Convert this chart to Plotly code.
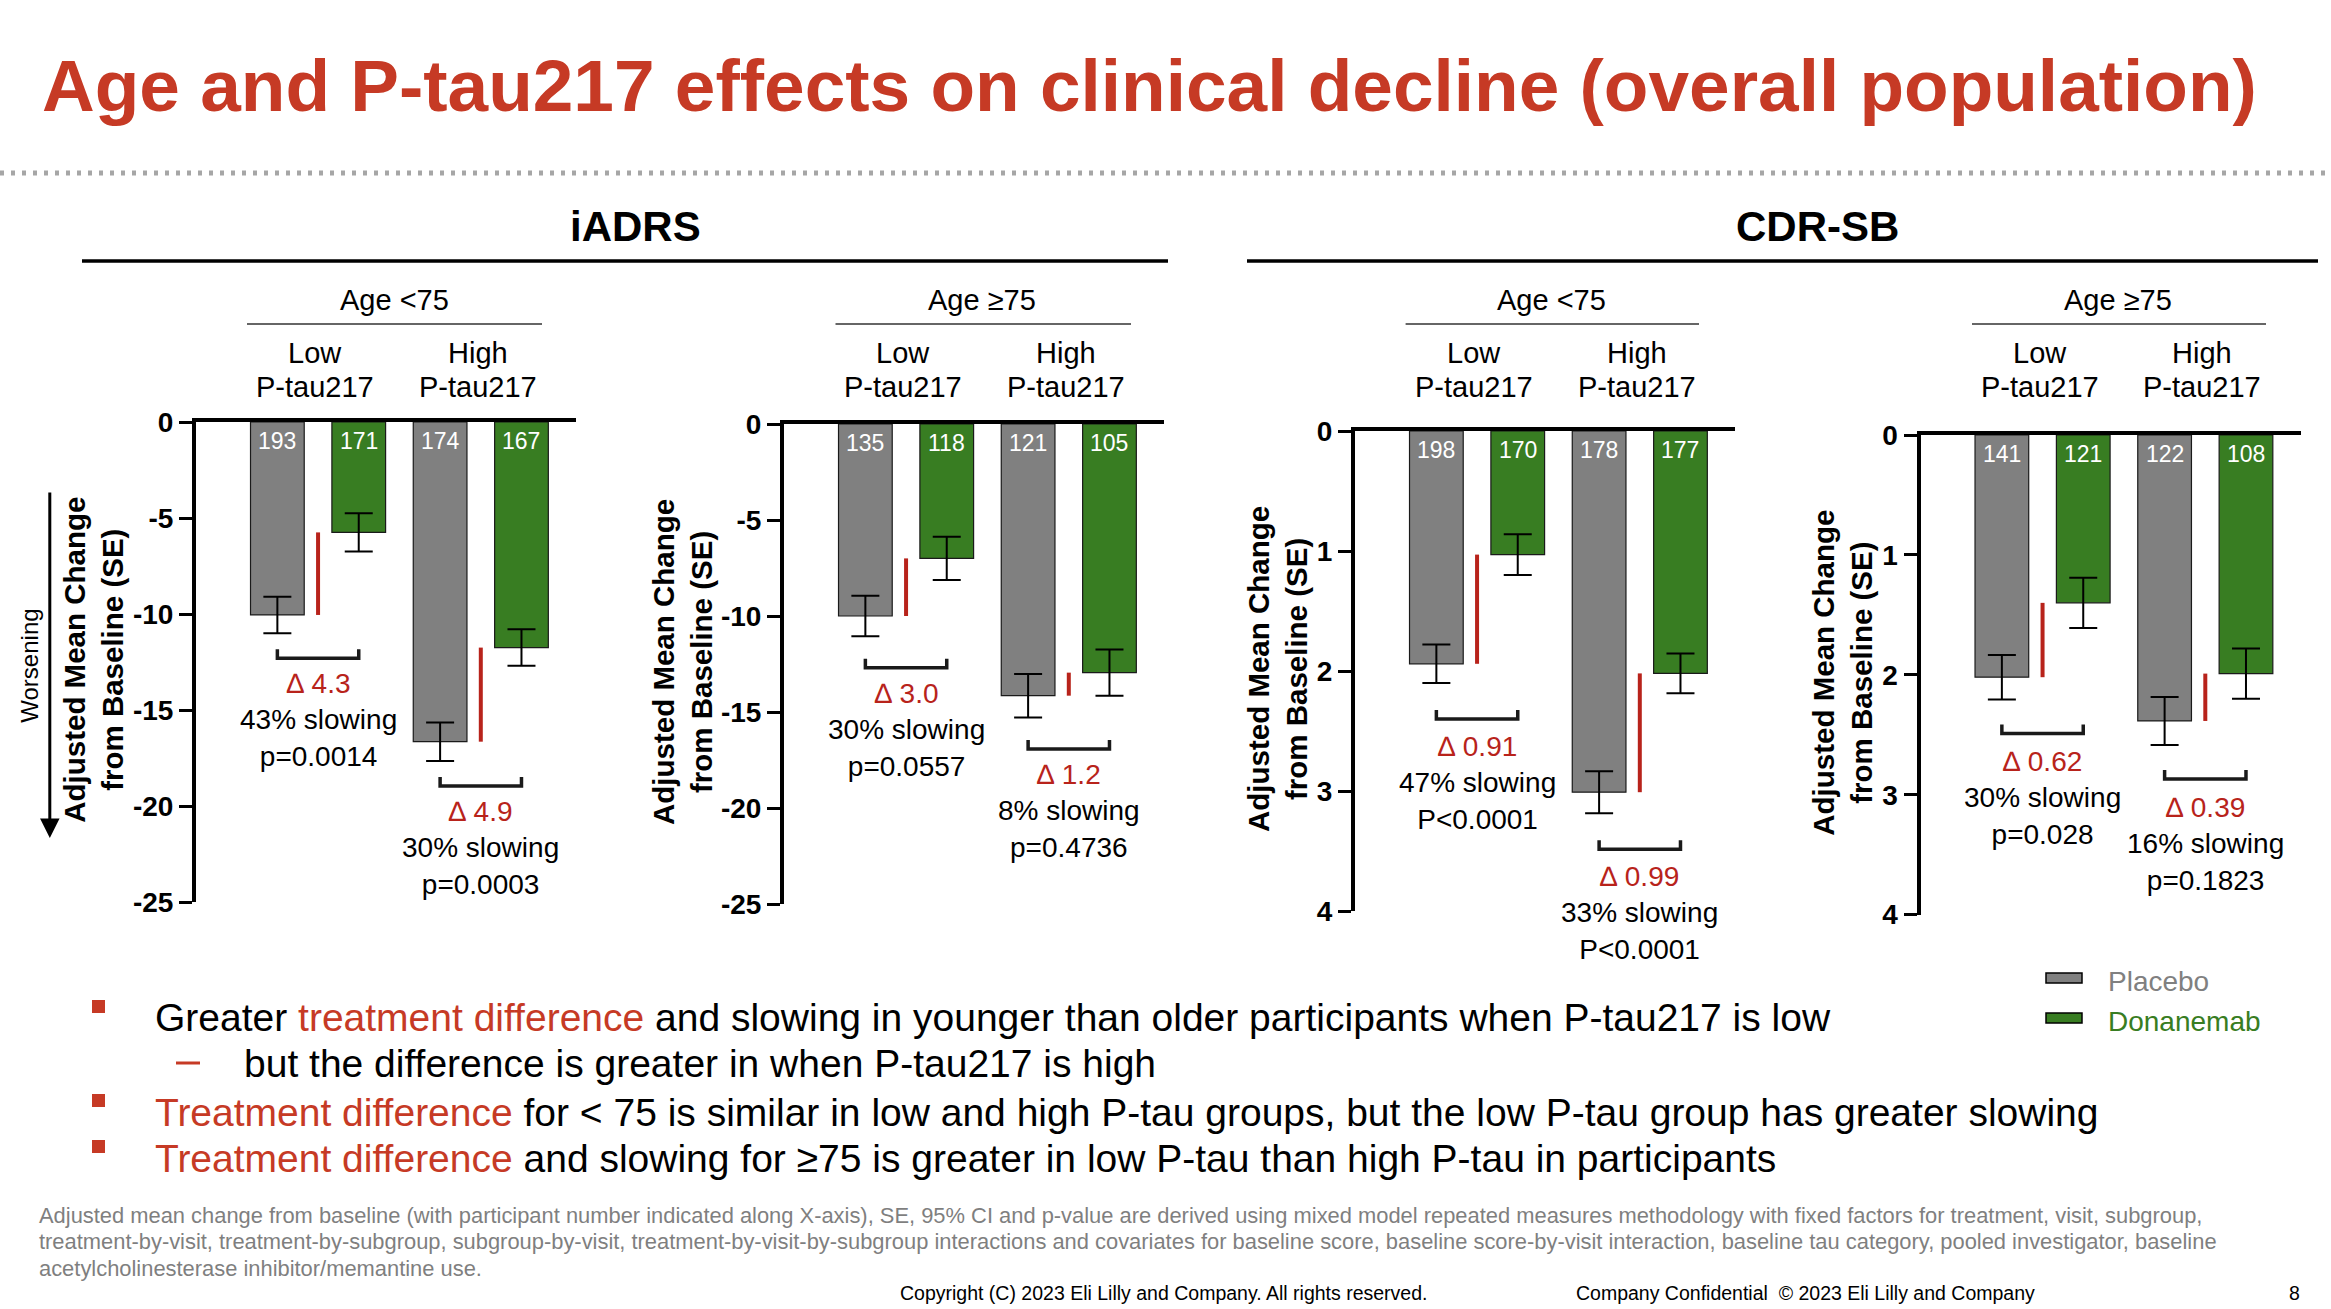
import plotly.graph_objects as go

W, H = 2331, 1309

# ---------------- data ----------------
panel_measures = ["iADRS", "iADRS", "CDR-SB", "CDR-SB"]
panel_ages = ["Age &lt;75", "Age ≥75", "Age &lt;75", "Age ≥75"]
ptau_levels = ["Low", "High"]
ptau_name = "P-tau217"

placebo_low = [-10.05, -10.0, 1.94, 2.02]
dona_low = [-5.75, -7.0, 1.03, 1.40]
placebo_high = [-16.65, -14.15, 3.01, 2.385]
dona_high = [-11.75, -12.95, 2.02, 1.99]

se_placebo_low = [0.95, 1.05, 0.16, 0.185]
se_dona_low = [1.0, 1.13, 0.17, 0.21]
se_placebo_high = [1.0, 1.13, 0.175, 0.20]
se_dona_high = [0.95, 1.2, 0.165, 0.21]

n_placebo_low = [193, 135, 198, 141]
n_dona_low = [171, 118, 170, 121]
n_placebo_high = [174, 121, 178, 122]
n_dona_high = [167, 105, 177, 108]

delta_low = ["4.3", "3.0", "0.91", "0.62"]
delta_high = ["4.9", "1.2", "0.99", "0.39"]
slowing_low = ["43%", "30%", "47%", "30%"]
slowing_high = ["30%", "8%", "33%", "16%"]
p_low = ["p=0.0014", "p=0.0557", "P<0.0001", "p=0.028"]
p_high = ["p=0.0003", "p=0.4736", "P<0.0001", "p=0.1823"]

iadrs_ticks = [0, -5, -10, -15, -20, -25]
iadrs_ticktext = ["0", "-5", "-10", "-15", "-20", "-25"]
cdr_ticks = [0, 1, 2, 3, 4]
cdr_ticktext = ["0", "1", "2", "3", "4"]

series_names = ["Placebo", "Donanemab"]

# ---------------- style ----------------
FONT = "Liberation Sans, Arial, sans-serif"
GRAY = "#808080"
GREEN = "#387D22"
RED_T = "#C63A25"
RED_L = "#B8231B"
FOOT = "#7F7F7F"


def px(x):
    return x / W


def py(y):
    return 1 - y / H


dom_left = [196, 784, 1355, 1920.5]
dom_w = 380
dom_top = [422, 424, 431, 435]
dom_bot = [902, 904, 911, 914.6]
x_range = [-1, 3.67]
gap_px = [16, 22.5, 27, 25]
text_shift = [-8, -8, -10, -11]
tick_px = 9
bar_w = 0.66

fig = go.Figure()
shapes = []
annotations = []


def note(x, y, text, size, color="black", xanchor="center", yanchor="middle",
         weight="normal", **kw):
    d = dict(x=x, y=y, text=text, showarrow=False, xanchor=xanchor,
             yanchor=yanchor,
             font=dict(family=FONT, size=size, color=color, weight=weight))
    d.setdefault("xref", "paper")
    d.setdefault("yref", "paper")
    d.update(kw)
    annotations.append(d)


for i in range(4):
    sfx = "" if i == 0 else str(i + 1)
    xa, ya = "x" + sfx, "y" + sfx
    is_iadrs = panel_measures[i] == "iADRS"
    yrange = [-25, 0] if is_iadrs else [4, 0]
    span = abs(yrange[1] - yrange[0])
    upp = span / (dom_bot[i] - dom_top[i])  # units per pixel
    sign = -1 if is_iadrs else 1

    pbo = [placebo_low[i], placebo_high[i]]
    don = [dona_low[i], dona_high[i]]
    se_p = [se_placebo_low[i], se_placebo_high[i]]
    se_d = [se_dona_low[i], se_dona_high[i]]
    n_p = [n_placebo_low[i], n_placebo_high[i]]
    n_d = [n_dona_low[i], n_dona_high[i]]
    deltas = [delta_low[i], delta_high[i]]
    slows = [slowing_low[i], slowing_high[i]]
    pvals = [p_low[i], p_high[i]]

    fig.add_trace(go.Bar(
        x=[0, 2], y=pbo, width=bar_w, name=series_names[0],
        marker=dict(color=GRAY, line=dict(color="#1a1a1a", width=1.2)),
        error_y=dict(type="data", array=se_p, symmetric=True,
                     color="black", thickness=2, width=14),
        xaxis=xa, yaxis=ya, showlegend=False, hoverinfo="skip"))
    fig.add_trace(go.Bar(
        x=[1, 3], y=don, width=bar_w, name=series_names[1],
        marker=dict(color=GREEN, line=dict(color="#1a1a1a", width=1.2)),
        error_y=dict(type="data", array=se_d, symmetric=True,
                     color="black", thickness=2, width=14),
        xaxis=xa, yaxis=ya, showlegend=False, hoverinfo="skip"))

    dom_x = [px(dom_left[i]), px(dom_left[i] + dom_w)]
    dom_y = [py(dom_bot[i]), py(dom_top[i])]
    xkey = "xaxis" if i == 0 else "xaxis" + sfx
    ykey = "yaxis" if i == 0 else "yaxis" + sfx
    fig.update_layout(**{
        xkey: dict(domain=dom_x, range=x_range, anchor=ya, side="top",
                   showline=True, linewidth=4, linecolor="black",
                   showticklabels=False, ticks="", showgrid=False,
                   zeroline=False, fixedrange=True),
        ykey: dict(domain=dom_y, range=yrange, anchor=xa,
                   tickvals=iadrs_ticks if is_iadrs else cdr_ticks,
                   ticktext=iadrs_ticktext if is_iadrs else cdr_ticktext,
                   showline=True, linewidth=4, linecolor="black",
                   ticks="outside", ticklen=13, tickwidth=3,
                   tickcolor="black", showgrid=False, zeroline=False,
                   tickfont=dict(family=FONT, size=28, color="black",
                                 weight="bold"),
                   fixedrange=True),
    })

    # n labels inside bars
    for k in range(2):
        note(2 * k, 0, str(n_p[k]), 23, "white", yanchor="top",
             xref=xa, yref=ya, yshift=-4)
        note(2 * k + 1, 0, str(n_d[k]), 23, "white", yanchor="top",
             xref=xa, yref=ya, yshift=-4)

    # treatment-difference marks
    for k in range(2):
        x0 = 2 * k
        shapes.append(dict(type="line", xref=xa, yref=ya,
                           x0=x0 + 0.5, x1=x0 + 0.5, y0=don[k], y1=pbo[k],
                           line=dict(color=RED_L, width=4)))
        ytop = pbo[k] + sign * (se_p[k] + gap_px[i] * upp)
        ybot = ytop + sign * tick_px * upp
        shapes.append(dict(type="path", xref=xa, yref=ya,
                           path=f"M {x0},{ytop} L {x0},{ybot} L {x0 + 1},{ybot} L {x0 + 1},{ytop}",
                           line=dict(color="#1a1a1a", width=3.5)))
        pv = pvals[k].replace("<", "&lt;")
        note(x0 + 0.5, ybot,
             f"<span style='color:{RED_L}'>∆ {deltas[k]}</span><br>{slows[k]} slowing<br>{pv}",
             28, yanchor="top", xref=xa, yref=ya, yshift=text_shift[i],
             align="center")

        # Low / High P-tau217 headers
        note(x0 + 0.5, py(352.7), ptau_levels[k], 29, xref=xa, xshift=-3)
        note(x0 + 0.5, py(387), ptau_name, 29, xref=xa, xshift=-3)

# y-axis titles
ytitle_x = [92.8, 682, 1277, 1841.7]
ytitle_y = [660, 662, 669, 673]
for i in range(4):
    note(px(ytitle_x[i]), py(ytitle_y[i]),
         "Adjusted Mean Change<br>from Baseline (SE)", 29.5,
         weight="bold", textangle=-90)

# Worsening arrow
note(px(28.7), py(666), "Worsening", 24, textangle=-90)
annotations.append(dict(x=px(49.8), y=py(838), xref="paper", yref="paper",
                        text="", showarrow=True, ax=0, ay=-347,
                        arrowhead=2, arrowsize=1.3, arrowwidth=3,
                        arrowcolor="black"))

# group headers
meas_x = [635, 1817]
meas_line = [(82, 1168), (1247, 2318)]
for m, name in enumerate(["iADRS", "CDR-SB"]):
    note(px(meas_x[m]), py(227), name, 42, weight="bold")
    shapes.append(dict(type="line", xref="paper", yref="paper",
                       x0=px(meas_line[m][0]), x1=px(meas_line[m][1]),
                       y0=py(261), y1=py(261),
                       line=dict(color="black", width=3.5)))

age_x = [394, 982, 1551, 2118]
age_line = [(247, 542), (835.5, 1131), (1405.6, 1699), (1972, 2266)]
for i in range(4):
    note(px(age_x[i]), py(300), panel_ages[i], 29)
    shapes.append(dict(type="line", xref="paper", yref="paper",
                       x0=px(age_line[i][0]), x1=px(age_line[i][1]),
                       y0=py(324), y1=py(324),
                       line=dict(color="#333333", width=1.5)))

# title + dotted rule
note(px(40), py(85),
     "Age and P-tau217 effects on clinical decline (overall population)",
     73, RED_T, xanchor="left", weight="bold")
shapes.append(dict(type="line", xref="paper", yref="paper", x0=0, x1=1,
                   y0=py(173), y1=py(173),
                   line=dict(color="#A6A6A6", width=5, dash="4px,7px")))

# legend
leg_y = [978, 1018]
leg_col = [GRAY, GREEN]
for j in range(2):
    shapes.append(dict(type="rect", xref="paper", yref="paper",
                       x0=px(2046), x1=px(2082),
                       y0=py(leg_y[j] + 5), y1=py(leg_y[j] - 5),
                       fillcolor=leg_col[j], line=dict(color="black", width=1.5)))
    note(px(2106), py(leg_y[j] + 3), series_names[j], 28, leg_col[j],
         xanchor="left")

# bullets
red_span = f"<span style='color:{RED_T}'>Treatment difference</span>"
bullet_lines = [
    (153, 1018, f"Greater <span style='color:{RED_T}'>treatment difference</span> and slowing in younger than older participants when P-tau217 is low", True),
    (242, 1063, "but the difference is greater in when P-tau217 is high", False),
    (153, 1112, f"{red_span} for &lt; 75 is similar in low and high P-tau groups, but the low P-tau group has greater slowing", True),
    (153, 1158, f"{red_span} and slowing for ≥75 is greater in low P-tau than high P-tau in participants", True),
]
for x, y, txt, square in bullet_lines:
    note(px(x), py(y), txt, 39, xanchor="left")
    if square:
        shapes.append(dict(type="rect", xref="paper", yref="paper",
                           x0=px(92), x1=px(105), y0=py(y - 5), y1=py(y - 18),
                           fillcolor=RED_T, line=dict(width=0)))
    else:
        shapes.append(dict(type="line", xref="paper", yref="paper",
                           x0=px(176), x1=px(200), y0=py(y), y1=py(y),
                           line=dict(color=RED_T, width=3)))

# footnote
foot_lines = [
    "Adjusted mean change from baseline (with participant number indicated along X-axis), SE, 95% CI and p-value are derived using mixed model repeated measures methodology with fixed factors for treatment, visit, subgroup,",
    "treatment-by-visit, treatment-by-subgroup, subgroup-by-visit, treatment-by-visit-by-subgroup interactions and covariates for baseline score, baseline score-by-visit interaction, baseline tau category, pooled investigator, baseline",
    "acetylcholinesterase inhibitor/memantine use.",
]
foot_y = [1215, 1241, 1268]
for t, y in zip(foot_lines, foot_y):
    note(px(37), py(y), t, 21.9, FOOT, xanchor="left")

note(px(898), py(1293),
     "Copyright (C) 2023 Eli Lilly and Company. All rights reserved.",
     19.5, xanchor="left")
note(px(1574), py(1293),
     "Company Confidential  © 2023 Eli Lilly and Company", 19.5,
     xanchor="left")
note(px(2294), py(1293), "8", 19.5)

fig.update_layout(width=W, height=H,
                  margin=dict(l=0, r=0, t=0, b=0, pad=0, autoexpand=False),
                  paper_bgcolor="white", plot_bgcolor="rgba(0,0,0,0)",
                  barmode="overlay", showlegend=False,
                  shapes=shapes, annotations=annotations,
                  font=dict(family=FONT))

fig.write_html("out.html", config={"displayModeBar": False},
               post_script="document.body.style.margin='0';document.body.style.overflow='hidden';")
